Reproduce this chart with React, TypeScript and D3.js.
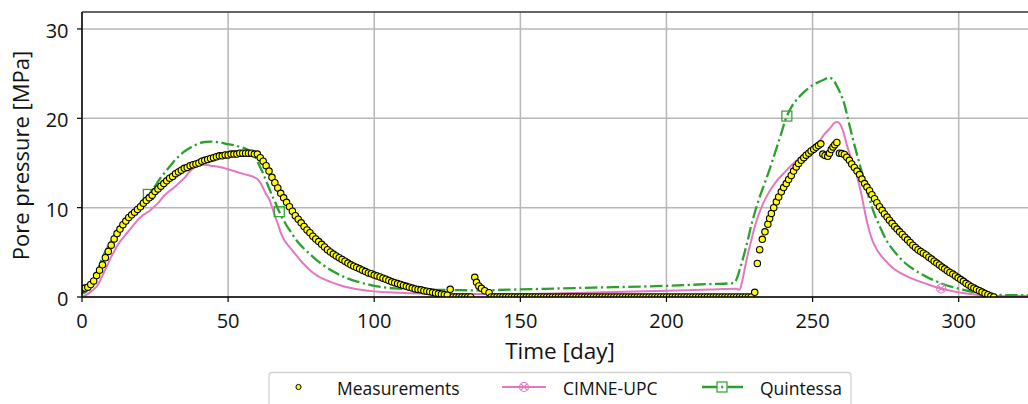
import React from "react";
import * as d3 from "d3";

// Pore pressure readings [day, MPa]
const MEASUREMENTS: [number, number][] = [
  [0, 0.9], [1, 1.0], [2, 1.1], [3, 1.4], [4, 1.8], [5, 2.4], [6, 3.0], [7, 3.6], [8, 4.4], [9, 5.1],
  [10, 5.8], [11, 6.5], [12, 7.1], [13, 7.6], [14, 8.1], [15, 8.5], [16, 8.9], [17, 9.2], [18, 9.5], [19, 9.8],
  [20, 10.1], [21, 10.5], [22, 10.8], [23, 11.1], [24, 11.4], [25, 11.8], [26, 12.1], [27, 12.4], [28, 12.7], [29, 13.0],
  [30, 13.3], [31, 13.5], [32, 13.8], [33, 14.0], [34, 14.2], [35, 14.4], [36, 14.5], [37, 14.7], [38, 14.8], [39, 14.9],
  [40, 15.0], [41, 15.2], [42, 15.3], [43, 15.4], [44, 15.5], [45, 15.6], [46, 15.7], [47, 15.8], [48, 15.8], [49, 15.9],
  [50, 15.9], [51, 16.0], [52, 16.0], [53, 16.0], [54, 16.1], [55, 16.1], [56, 16.1], [57, 16.1], [58, 16.1], [59, 16.0],
  [60, 16.0], [61, 15.6], [62, 15.2], [63, 14.7], [64, 14.1], [65, 13.4], [66, 12.8], [67, 12.2], [68, 11.6], [69, 11.1],
  [70, 10.6], [71, 10.1], [72, 9.6], [73, 9.1], [74, 8.7], [75, 8.3], [76, 7.9], [77, 7.5], [78, 7.2], [79, 6.8],
  [80, 6.5], [81, 6.2], [82, 5.9], [83, 5.6], [84, 5.3], [85, 5.05], [86, 4.8], [87, 4.6], [88, 4.4], [89, 4.2],
  [90, 4.0], [91, 3.8], [92, 3.6], [93, 3.45], [94, 3.3], [95, 3.15], [96, 3.0], [97, 2.85], [98, 2.7], [99, 2.6],
  [100, 2.45], [101, 2.35], [102, 2.25], [103, 2.1], [104, 2.0], [105, 1.85], [106, 1.7], [107, 1.6], [108, 1.5], [109, 1.4],
  [110, 1.3], [111, 1.2], [112, 1.1], [113, 1.0], [114, 0.9], [115, 0.85], [116, 0.8], [117, 0.7], [118, 0.65], [119, 0.6],
  [120, 0.52], [121, 0.45], [122, 0.38], [123, 0.32], [124, 0.26], [125, 0.2], [126, 0.86], [127, 0], [128, 0], [129, 0],
  [130, 0], [131, 0], [132, 0], [133, 0],
  [134.4, 2.2], [135, 1.64], [135.8, 1.23], [136.7, 0.97], [137.8, 0.7], [139.3, 0.48],
  [140, 0], [141, 0], [142, 0], [143, 0], [144, 0], [145, 0], [146, 0], [147, 0], [148, 0], [149, 0],
  [150, 0], [151, 0], [152, 0], [153, 0], [154, 0], [155, 0], [156, 0], [157, 0], [158, 0], [159, 0],
  [160, 0], [161, 0], [162, 0], [163, 0], [164, 0], [165, 0], [166, 0], [167, 0], [168, 0], [169, 0],
  [170, 0], [171, 0], [172, 0], [173, 0], [174, 0], [175, 0], [176, 0], [177, 0], [178, 0], [179, 0],
  [180, 0], [181, 0], [182, 0], [183, 0], [184, 0], [185, 0], [186, 0], [187, 0], [188, 0], [189, 0],
  [190, 0], [191, 0], [192, 0], [193, 0], [194, 0], [195, 0], [196, 0], [197, 0], [198, 0], [199, 0],
  [200, 0], [201, 0], [202, 0], [203, 0], [204, 0], [205, 0], [206, 0], [207, 0], [208, 0], [209, 0],
  [210, 0], [211, 0], [212, 0], [213, 0], [214, 0], [215, 0], [216, 0], [217, 0], [218, 0], [219, 0],
  [220, 0], [221, 0], [222, 0], [223, 0], [224, 0], [225, 0], [226, 0], [227, 0], [228, 0], [229, 0],
  [230.2, 0.52], [231.1, 3.76], [231.9, 5.3], [232.8, 6.45], [233.7, 7.3], [234.7, 8.15], [235.3, 8.8], [235.9, 9.35],
  [236.7, 10.0], [237.6, 10.65], [238.4, 11.2], [239.3, 11.77], [240.1, 12.25], [241, 12.7], [241.8, 13.15], [242.7, 13.6],
  [243.5, 14.1], [244.4, 14.56], [245.2, 14.95], [246.1, 15.3], [247, 15.6], [247.8, 15.87], [248.7, 16.1], [249.5, 16.35],
  [250.4, 16.55], [251.2, 16.75], [252, 16.95], [252.8, 17.15],
  [253.5, 16.0], [254.3, 15.85], [255.2, 15.75], [255.8, 16.1], [256.4, 16.5], [257, 16.8], [257.6, 17.05], [258.3, 17.3],
  [259.2, 16.1], [260, 16.05], [260.9, 15.95], [261.7, 15.65], [262.6, 15.3],
  [263.4, 14.9], [264.3, 14.5], [265.2, 14.1], [266.1, 13.7], [266.9, 13.2], [267.8, 12.7], [268.6, 12.3], [269.5, 11.9],
  [270.3, 11.45], [271.2, 11.0], [272, 10.55], [272.9, 10.1], [273.8, 9.7], [274.6, 9.3], [275.5, 8.95], [276.3, 8.6],
  [277.2, 8.25], [278.1, 7.9], [278.9, 7.6], [279.8, 7.3], [280.7, 7.0], [281.6, 6.7], [282.5, 6.4], [283.4, 6.1],
  [284.3, 5.8], [285.2, 5.55], [286.1, 5.3], [287, 5.1], [287.9, 4.9], [288.9, 4.7], [289.8, 4.45], [290.7, 4.25],
  [291.6, 4.0], [292.5, 3.8], [293.4, 3.58], [294.3, 3.35], [295.2, 3.15], [296.1, 2.95], [297, 2.75], [298, 2.57],
  [298.9, 2.35], [299.8, 2.15], [300.7, 1.95], [301.6, 1.75], [302.5, 1.53], [303.4, 1.35], [304.3, 1.15], [305.2, 1.0],
  [306.1, 0.85], [307.1, 0.7], [308, 0.55], [309, 0.4], [310, 0.25], [311, 0.1], [312, 0],
];

// CIMNE-UPC model [day, MPa]
const CIMNE_UPC: [number, number][] = [
  [0, 0.05], [1, 0.15], [2, 0.35], [3, 0.6], [4, 0.85], [5, 1.15], [6, 1.7], [7, 2.4], [8, 3.1], [9, 3.8],
  [10, 4.5], [11, 5.1], [12, 5.7], [13, 6.2], [14, 6.6], [15, 7.0], [16, 7.4], [17, 7.8], [18, 8.2], [19, 8.6],
  [20, 8.9], [21, 9.2], [22, 9.4], [23, 9.6], [24, 9.9], [25, 10.2], [26, 10.5], [27, 10.9], [28, 11.3], [29, 11.6],
  [30, 11.9], [31, 12.1], [32, 12.4], [33, 12.7], [34, 13.0], [35, 13.3], [36, 13.7], [37, 14.1], [38, 14.4], [39, 14.6],
  [40, 14.75], [42, 14.8], [44, 14.7], [47, 14.55], [50, 14.3], [53, 14.0], [56, 13.7], [59, 13.4], [60, 13.2],
  [61, 12.8], [62, 12.2], [63, 11.5], [64, 11.0], [65, 10.1], [66, 9.1], [67, 8.2], [68, 7.2], [69, 6.5], [70, 6.0],
  [71, 5.6], [72, 5.2], [73, 4.8], [74, 4.4], [75, 4.0], [76, 3.65], [78, 3.0], [80, 2.5], [82, 2.1], [85, 1.7],
  [88, 1.35], [92, 1.0], [96, 0.78], [100, 0.63], [105, 0.52], [110, 0.45], [120, 0.37], [130, 0.33], [150, 0.33],
  [175, 0.5], [200, 0.7], [215, 0.85], [224, 0.92], [225, 0.8], [226, 1.9], [227, 3.5], [228, 5.0], [229, 6.3],
  [230, 7.6], [231, 8.7], [232, 9.6], [233, 10.4], [234, 11.1], [236, 12.2], [238, 13.1], [240, 13.8], [242, 14.5],
  [244, 15.1], [246, 15.7], [248, 16.2], [250, 16.8], [252, 17.3], [254, 18.2], [256, 18.9], [257.5, 19.5],
  [258.5, 19.6], [259.5, 19.3], [260.5, 18.5], [261.5, 17.3], [262.5, 16.2], [263.5, 15.3], [264.5, 14.3],
  [265.5, 13.1], [266.5, 11.8], [267.5, 10.2], [268.5, 8.6], [269.5, 7.3], [270.5, 6.3], [272, 5.3], [274, 4.4],
  [276, 3.7], [278, 3.1], [280, 2.7], [283, 2.2], [286, 1.8], [290, 1.35], [294, 0.95], [298, 0.65], [302, 0.42],
  [306, 0.25], [310, 0.15], [315, 0.12], [325, 0.1],
];

// Quintessa model [day, MPa]
const QUINTESSA: [number, number][] = [
  [0, 0.4], [1, 0.5], [2, 0.8], [3, 1.3], [4, 1.9], [5, 2.7], [6, 3.6], [7, 4.4], [8, 5.1], [9, 5.7],
  [10, 6.3], [11, 6.9], [12, 7.4], [13, 7.9], [14, 8.3], [15, 8.7], [16, 9.0], [17, 9.3], [18, 9.7], [19, 10.1],
  [20, 10.5], [21, 10.9], [22, 11.2], [22.7, 11.48], [23, 11.6], [24, 12.0], [25, 12.4], [26, 12.9], [27, 13.4],
  [28, 13.8], [29, 14.2], [30, 14.6], [31, 15.0], [32, 15.4], [33, 15.7], [34, 16.0], [35, 16.3], [36, 16.5],
  [37, 16.7], [38, 16.9], [39, 17.05], [40, 17.2], [42, 17.35], [44, 17.4], [46, 17.35], [48, 17.25], [50, 17.1],
  [52, 17.0], [54, 16.8], [56, 16.6], [58, 16.2], [59, 15.8], [60, 15.2], [61, 14.5], [62, 13.8], [63, 13.0],
  [64, 12.2], [65, 11.4], [66, 10.7], [67, 9.9], [67.5, 9.55], [68, 9.2], [69, 8.6], [70, 8.0], [71, 7.5], [72, 7.0],
  [74, 6.1], [76, 5.4], [78, 4.8], [80, 4.2], [82, 3.7], [84, 3.25], [86, 2.85], [88, 2.5], [90, 2.2], [92, 1.95],
  [95, 1.65], [98, 1.4], [100, 1.25], [104, 1.05], [108, 0.95], [115, 0.85], [125, 0.78], [135, 0.75], [150, 0.85],
  [175, 1.05], [200, 1.25], [215, 1.45], [223, 1.55], [224, 2.0], [225, 3.0], [226, 4.1], [227, 5.3], [228, 6.6],
  [229, 8.0], [230, 9.2], [231, 10.3], [232, 11.3], [233, 12.2], [234, 13.1], [235, 14.0], [236, 15.0], [237, 16.0],
  [238, 17.0], [239, 18.0], [240, 19.1], [241, 20.1], [241.2, 20.25], [242, 20.8], [243, 21.4], [244, 21.85],
  [245, 22.25], [246, 22.6], [248, 23.2], [250, 23.7], [252, 24.05], [254, 24.35], [255.5, 24.55], [256.5, 24.45],
  [257.5, 24.1], [258.5, 23.5], [259.5, 22.8], [260.5, 22.0], [261.5, 20.8], [262.5, 19.4], [263.5, 18.1],
  [264.5, 16.8], [265.5, 15.6], [266.5, 14.4], [267.5, 13.2], [268.5, 12.0], [269.5, 10.9], [270.5, 9.9],
  [271.5, 9.0], [273, 7.9], [275, 6.5], [277, 5.5], [279, 4.7], [281, 4.0], [283, 3.45], [285, 3.0], [287, 2.6],
  [289, 2.25], [292, 1.8], [295, 1.4], [298, 1.1], [302, 0.78], [306, 0.5], [310, 0.32], [315, 0.22], [325, 0.2],
];

// Days at which the model curves carry a marker
const CIMNE_MARKER_DAYS = [294];
const QUINTESSA_MARKER_DAYS = [22.7, 67.5, 241.2];

const X_TICKS = [0, 50, 100, 150, 200, 250, 300];
const Y_TICKS = [0, 10, 20, 30];
const X_LABEL = "Time [day]";
const Y_LABEL = "Pore pressure [MPa]";
const LEGEND_LABELS = ["Measurements", "CIMNE-UPC", "Quintessa"];

const W = 1028;
const H = 404;
const FONT = "'Open Sans', 'DejaVu Sans', sans-serif";
const PINK = "#e377c2";
const GREEN = "#2ca02c";
const GRID = "#b7b7b7";
const INK = "#111";

const left = 82;
const right = 1030;
const top = 12;
const bottom = 297;

const x = d3.scaleLinear().domain([0, 324.4]).range([left, right]);
const y = d3.scaleLinear().domain([0, 31.9]).range([bottom, top]);

const line = d3
  .line<[number, number]>()
  .x((d) => x(d[0]))
  .y((d) => y(d[1]))
  .curve(d3.curveMonotoneX);

const pick = (series: [number, number][], days: number[]) =>
  days.map((t) => series.find((d) => d[0] === t)!).filter(Boolean);

function CrossCircle({ cx, cy, color }: { cx: number; cy: number; color: string }) {
  const r = 4.5;
  const k = 3.1;
  return (
    <g stroke={color} strokeWidth={1.2} fill="none">
      <circle cx={cx} cy={cy} r={r} />
      <line x1={cx - k} y1={cy - k} x2={cx + k} y2={cy + k} />
      <line x1={cx - k} y1={cy + k} x2={cx + k} y2={cy - k} />
    </g>
  );
}

export default function App() {
  const dash = "12.5 3.5 2.2 3.5";
  const legendY = 387;
  return (
    <svg
      width={W}
      height={H}
      viewBox={`0 0 ${W} ${H}`}
      style={{ position: "absolute", left: 0, top: 0, display: "block", background: "#fff" }}
      fontFamily={FONT}
    >
      <defs>
        <clipPath id="plot-area">
          <rect x={left} y={top} width={right - left} height={bottom - top} />
        </clipPath>
      </defs>
      <rect x={0} y={0} width={W} height={H} fill="#fff" />

      {/* grid */}
      <g stroke={GRID} strokeWidth={1.5}>
        {X_TICKS.map((t) => (
          <line key={`gx${t}`} x1={x(t)} x2={x(t)} y1={top} y2={bottom} />
        ))}
        {Y_TICKS.map((t) => (
          <line key={`gy${t}`} x1={left} x2={right} y1={y(t)} y2={y(t)} />
        ))}
      </g>

      {/* series */}
      <g clipPath="url(#plot-area)">
        <path d={line(CIMNE_UPC) ?? ""} fill="none" stroke={PINK} strokeWidth={2} />
        <path
          d={line(QUINTESSA) ?? ""}
          fill="none"
          stroke={GREEN}
          strokeWidth={2.3}
          strokeDasharray={dash}
        />
        {pick(CIMNE_UPC, CIMNE_MARKER_DAYS).map((d, i) => (
          <CrossCircle key={`cm${i}`} cx={x(d[0])} cy={y(d[1])} color={PINK} />
        ))}
        {pick(QUINTESSA, QUINTESSA_MARKER_DAYS).map((d, i) => (
          <rect
            key={`qm${i}`}
            x={x(d[0]) - 5}
            y={y(d[1]) - 5}
            width={10}
            height={10}
            fill="none"
            stroke={GREEN}
            strokeWidth={1.2}
          />
        ))}
        {MEASUREMENTS.map((d, i) => (
          <circle
            key={`m${i}`}
            cx={x(d[0])}
            cy={y(d[1])}
            r={3.2}
            fill="#ffff00"
            stroke="#000"
            strokeWidth={1.1}
          />
        ))}
      </g>

      {/* spines */}
      <g stroke="#000" strokeWidth={1.5} fill="none">
        <line x1={left} x2={right} y1={top} y2={top} stroke="#333" />
        <line x1={left} x2={left} y1={top} y2={bottom} />
        <line x1={left} x2={right} y1={bottom} y2={bottom} />
      </g>

      {/* ticks */}
      <g stroke="#000" strokeWidth={1.2}>
        {X_TICKS.map((t) => (
          <line key={`tx${t}`} x1={x(t)} x2={x(t)} y1={bottom} y2={bottom + 5} />
        ))}
        {Y_TICKS.map((t) => (
          <line key={`ty${t}`} x1={left - 5} x2={left} y1={y(t)} y2={y(t)} />
        ))}
      </g>
      <g fontSize={20} fill={INK}>
        {X_TICKS.map((t) => (
          <text key={`lx${t}`} x={x(t)} y={bottom + 31} textAnchor="middle">
            {t}
          </text>
        ))}
        {Y_TICKS.map((t) => (
          <text key={`ly${t}`} x={68.5} y={y(t) + 9} textAnchor="end">
            {t}
          </text>
        ))}
      </g>

      {/* axis titles */}
      <text x={560} y={359} textAnchor="middle" fontSize={22.5} fill={INK}>
        {X_LABEL}
      </text>
      <text
        transform={`translate(${28.5},${155.5}) rotate(-90)`}
        textAnchor="middle"
        fontSize={22}
        fill={INK}
      >
        {Y_LABEL}
      </text>

      {/* legend */}
      <g>
        <rect
          x={269}
          y={372.5}
          width={582}
          height={40}
          rx={3}
          fill="#fff"
          stroke="#d2d2d2"
          strokeWidth={1.3}
        />
        <circle cx={298.5} cy={legendY} r={2.6} fill="#ffff00" stroke="#000" strokeWidth={1} />
        <text x={337} y={legendY + 8} fontSize={17.5} fill={INK}>
          {LEGEND_LABELS[0]}
        </text>

        <line x1={502} x2={546} y1={legendY} y2={legendY} stroke={PINK} strokeWidth={2} />
        <CrossCircle cx={524} cy={legendY} color={PINK} />
        <text x={563} y={legendY + 8} fontSize={17.5} fill={INK}>
          {LEGEND_LABELS[1]}
        </text>

        <line
          x1={702}
          x2={743}
          y1={legendY}
          y2={legendY}
          stroke={GREEN}
          strokeWidth={2.3}
          strokeDasharray="15 4.2 2 4.2 16"
        />
        <rect x={717} y={legendY - 5} width={10} height={10} fill="none" stroke={GREEN} strokeWidth={1.2} />
        <text x={760} y={legendY + 8} fontSize={17.5} fill={INK}>
          {LEGEND_LABELS[2]}
        </text>
      </g>
    </svg>
  );
}
